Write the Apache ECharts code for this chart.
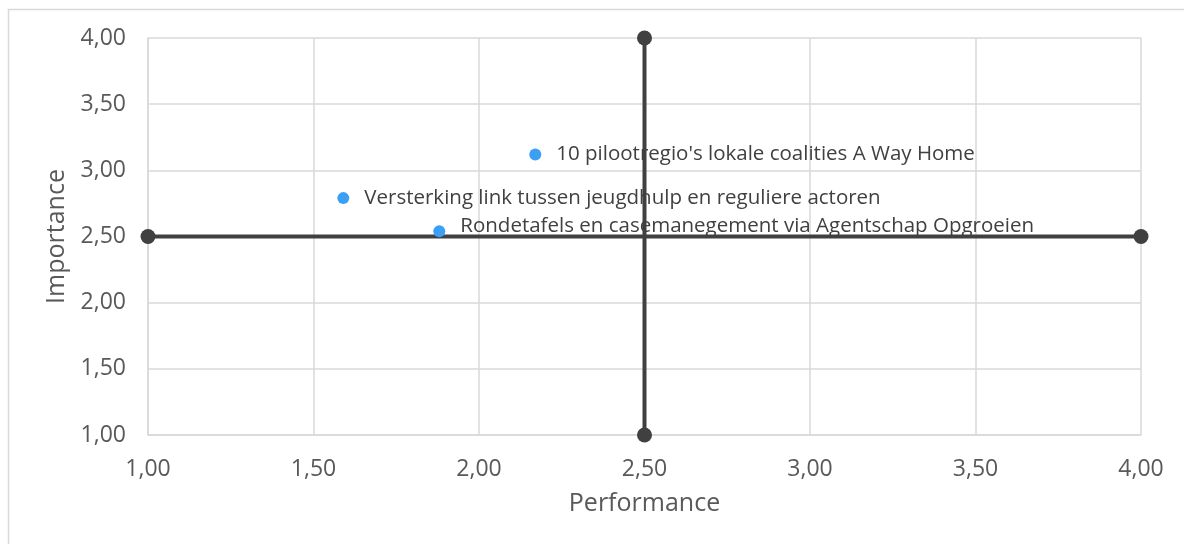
<!DOCTYPE html>
<html>
<head>
<meta charset="utf-8">
<script src="https://cdn.jsdelivr.net/npm/echarts@6/dist/echarts.min.js"></script>
<style>
  html, body { margin: 0; padding: 0; background: #fff; }
  #chart { width: 1184px; height: 544px; }
</style>
</head>
<body>
<div id="chart"></div>
<script>
// data
const names = [
  "10 pilootregio's lokale coalities A Way Home",
  'Versterking link tussen jeugdhulp en reguliere actoren',
  'Rondetafels en casemanegement via Agentschap Opgroeien'
];
const performance = [2.17, 1.59, 1.88];
const importance = [3.12, 2.79, 2.54];
const labelShift = [0, 0, -5];

// quadrant cross at 2,50
const hLine = [[1, 2.5], [4, 2.5]];
const vLine = [[2.5, 1], [2.5, 4]];

const fmt = v => v.toFixed(2).replace('.', ',');
const font = '"Open Sans", Lato, sans-serif';
const textColor = '#595959';

const points = names.map((n, i) => ({
  name: n,
  value: [performance[i], importance[i]],
  label: { offset: [0, labelShift[i]] }
}));

const crossStyle = {
  type: 'line',
  symbol: 'circle',
  symbolSize: 15,
  lineStyle: { color: '#404040', width: 4 },
  itemStyle: { color: '#404040' },
  silent: true,
  z: 3
};

const option = {
  animation: false,
  textStyle: { fontFamily: font },
  graphic: [{
    type: 'rect',
    shape: { x: 8.5, y: 9.5, width: 1300, height: 700 },
    style: { fill: 'none', stroke: '#d9d9d9', lineWidth: 1.5 },
    z: -1
  }],
  grid: { left: 148, right: 43, top: 38, bottom: 109 },
  xAxis: {
    type: 'value', min: 1, max: 4, interval: 0.5,
    name: 'Performance', nameLocation: 'middle', nameGap: 56,
    nameTextStyle: { fontSize: 25, color: textColor, fontFamily: font },
    axisLine: { show: true, lineStyle: { color: '#d9d9d9', width: 1.5 } },
    axisTick: { show: false },
    splitLine: { lineStyle: { color: '#d9d9d9', width: 1.5 } },
    axisLabel: { formatter: fmt, fontSize: 23, color: textColor, margin: 23 }
  },
  yAxis: {
    type: 'value', min: 1, max: 4, interval: 0.5,
    name: 'Importance', nameLocation: 'middle', nameGap: 62,
    nameTextStyle: { fontSize: 25, color: textColor, fontFamily: font },
    axisLine: { show: true, lineStyle: { color: '#d9d9d9', width: 1.5 } },
    axisTick: { show: false },
    splitLine: { lineStyle: { color: '#d9d9d9', width: 1.5 } },
    axisLabel: { formatter: fmt, fontSize: 23, color: textColor, margin: 22 }
  },
  series: [
    Object.assign({ data: hLine }, crossStyle),
    Object.assign({ data: vLine }, crossStyle),
    {
      type: 'scatter',
      data: points,
      symbolSize: 12,
      itemStyle: { color: '#3a9ff5', opacity: 1 },
      z: 4,
      label: {
        show: true,
        position: 'right',
        distance: 15,
        formatter: p => p.name,
        fontSize: 20.5,
        color: '#404040',
        fontFamily: font
      }
    }
  ]
};

const myChart = echarts.init(document.getElementById('chart'));
myChart.setOption(option);
</script>
</body>
</html>
